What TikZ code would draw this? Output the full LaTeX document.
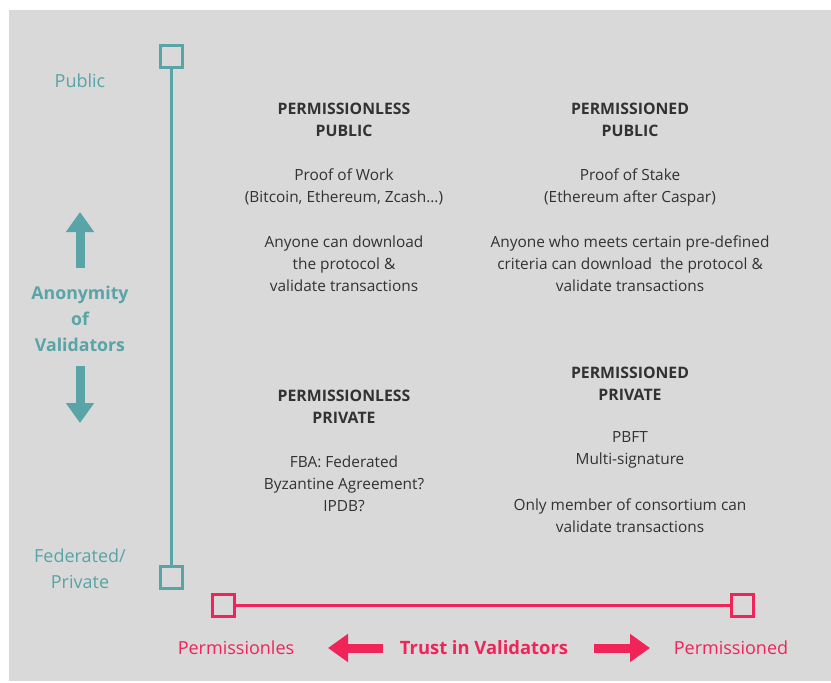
\documentclass[tikz,border=0pt]{standalone}
\usepackage{fontspec}
\setmainfont{Open Sans}
\usetikzlibrary{
  arrows.meta,
  positioning
}
\definecolor{valteal}{RGB}{88,164,166}
\definecolor{trustred}{RGB}{240,36,88}
\definecolor{txtdark}{RGB}{50,50,50}
\definecolor{bggray}{RGB}{217,217,217}

\begin{document}
\begin{tikzpicture}[
  x=1pt, y=-1pt,
  every node/.style = {align=center, inner sep=0pt},
  body/.style = {font=\fontsize{15.4}{22}\selectfont, text=txtdark},
  quadtitle/.style = {font=\bfseries\fontsize{15.8}{22}\selectfont, text=txtdark},
  axislabel/.style = {font=\fontsize{18}{26}\selectfont},
  endbox/.style = {draw, line width=3pt, minimum size=22pt},
  bigarrow/.style = {line width=9pt, -{Triangle[length=20pt,width=27pt]}}]
  \useasboundingbox (0,0) rectangle (831,683);
  \fill[bggray] (9,10) rectangle (831,681);
  % vertical axis
  \node[endbox, valteal] (pubbox) at (171,56) {};
  \node[endbox, valteal] (fedbox) at (171,577) {};
  \draw[valteal, line width=3pt] (pubbox) -- (fedbox);
  \node[axislabel, text=valteal] (public) at (80,81) {Public};
  \node[axislabel, text=valteal] (federated) at (80,569) {Federated/\\Private};
  \node[axislabel, text=valteal, font=\bfseries\fontsize{17.7}{26}\selectfont]
    (anonymity) at (80,319) {Anonymity\\of\\Validators};
  \coordinate (upfrom) at (80,268);
  \coordinate (upto) at (80,212);
  \coordinate (downfrom) at (80,366);
  \coordinate (downto) at (80,423);
  \draw[bigarrow, valteal] (upfrom) -- (upto);
  \draw[bigarrow, valteal] (downfrom) -- (downto);
  % horizontal axis
  \node[endbox, trustred] (lessbox) at (223,605) {};
  \node[endbox, trustred] (edbox) at (742,605) {};
  \draw[trustred, line width=3pt] (lessbox) -- (edbox);
  \node[axislabel, text=trustred] (permless) at (236,648) {Permissionles};
  \node[axislabel, text=trustred, font=\bfseries\fontsize{18.4}{26}\selectfont]
    (trust) at (484,648) {Trust in Validators};
  \node[axislabel, text=trustred] (permed) at (731,648) {Permissioned};
  \coordinate (leftfrom) at (383,648);
  \coordinate (leftto) at (328,648);
  \coordinate (rightfrom) at (594,648);
  \coordinate (rightto) at (650,648);
  \draw[bigarrow, trustred] (leftfrom) -- (leftto);
  \draw[bigarrow, trustred] (rightfrom) -- (rightto);
  % quadrants
  \node[quadtitle] (tltitle) at (344,120) {PERMISSIONLESS\\PUBLIC};
  \node[body] (tlpow) at (344,187) {Proof of Work\\(Bitcoin, Ethereum, Zcash...)};
  \node[body] (tlwho) at (344,264) {Anyone can download\\the protocol \&\\validate transactions};
  \node[quadtitle] (trtitle) at (630,120) {PERMISSIONED\\PUBLIC};
  \node[body] (trpos) at (630,187) {Proof of Stake\\(Ethereum after Caspar)};
  \node[body] (trwho) at (630,264) {Anyone who meets certain pre-defined\\criteria can download\ \ the protocol \&\\validate transactions};
  \node[quadtitle] (bltitle) at (344,407) {PERMISSIONLESS\\PRIVATE};
  \node[body] (blfba) at (344,484) {FBA: Federated\\Byzantine Agreement?\\IPDB?};
  \node[quadtitle] (brtitle) at (630,384) {PERMISSIONED\\PRIVATE};
  \node[body] (brpbft) at (630,450) {PBFT\\Multi-signature};
  \node[body] (brwho) at (630,516) {Only member of consortium can\\validate transactions};
\end{tikzpicture}
\end{document}
